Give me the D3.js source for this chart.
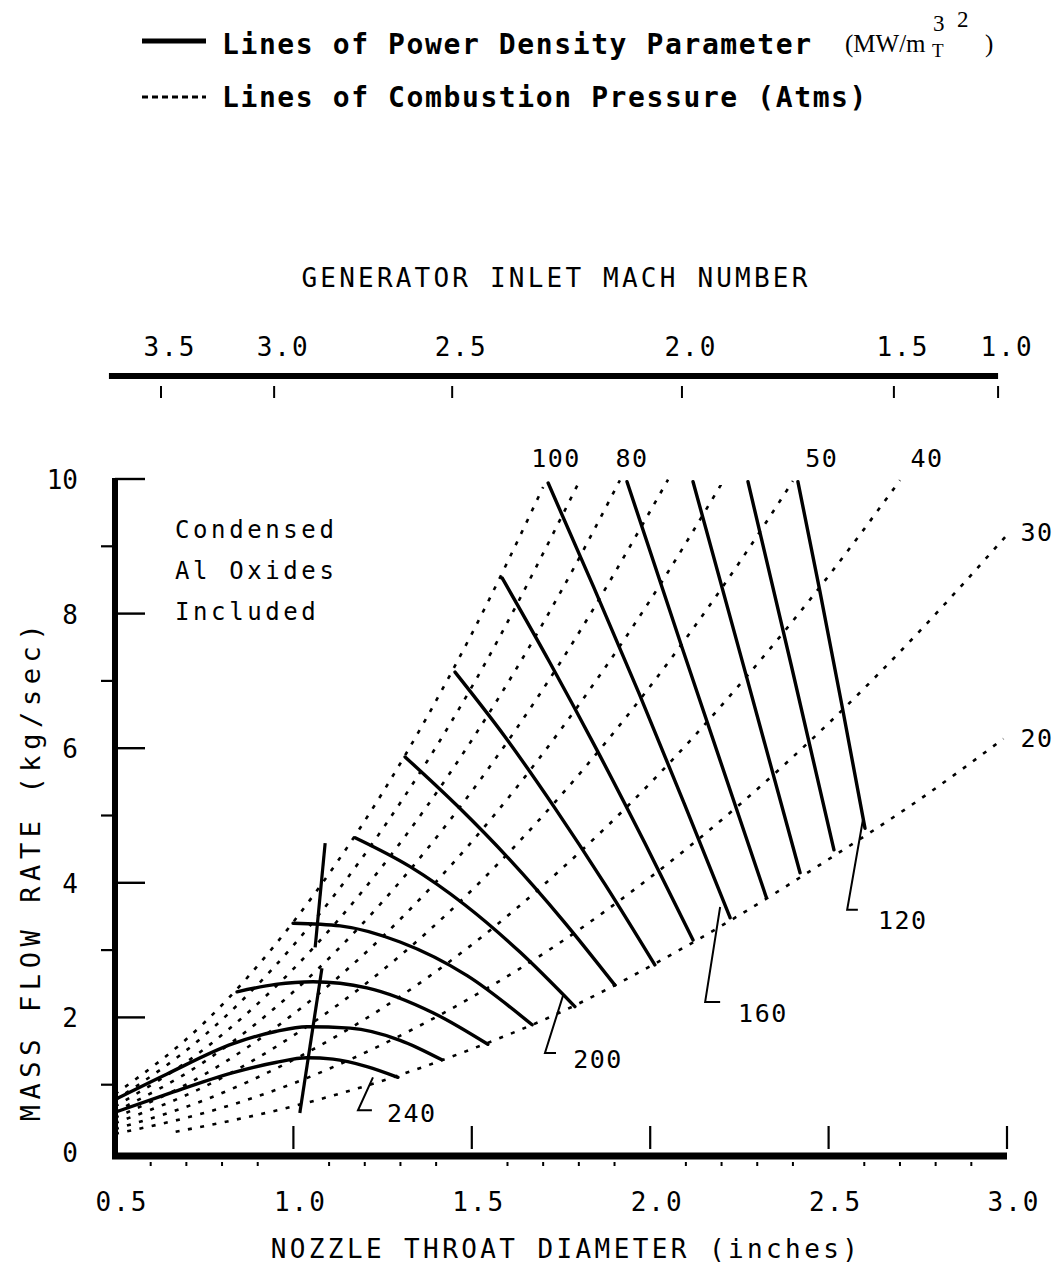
<!DOCTYPE html>
<html><head><meta charset="utf-8">
<script src="https://cdn.jsdelivr.net/npm/d3@7"></script>
<style>body{margin:0;background:#fff;} svg{display:block;}</style>
</head><body>
<svg id="c" width="1060" height="1272"></svg>
<script>
// ---------------- DATA ----------------
const xTickValues = [0.5, 1.0, 1.5, 2.0, 2.5, 3.0];
const xTickLabels = ["0.5", "1.0", "1.5", "2.0", "2.5", "3.0"];
const xMinorValues = [0.6,0.7,0.8,0.9,1.1,1.2,1.3,1.4,1.6,1.7,1.8,1.9,2.1,2.2,2.3,2.4,2.6,2.7,2.8,2.9];
const yTickValues = [0, 2, 4, 6, 8, 10];
const yTickLabels = ["0", "2", "4", "6", "8", "10"];
const yMinorValues = [1, 3, 5, 7, 9];
const machLabels = ["3.5", "3.0", "2.5", "2.0", "1.5", "1.0"];
const machAtDiameter = [0.629, 0.946, 1.445, 2.089, 2.683, 2.975];

// Lines of combustion pressure (Atms): [throat diameter (in), mass flow (kg/s)]
const pressures = [20, 30, 40, 50, 60, 70, 80, 90, 100];
const p20  = [[0.67,0.30],[1.0,0.68],[1.25,1.06],[1.5,1.53],[1.75,2.08],[2.0,2.76],[2.25,3.52],[2.5,4.35],[2.75,5.22],[2.99,6.14]];
const p30  = [[0.5,0.27],[0.75,0.58],[1.0,1.02],[1.25,1.60],[1.5,2.30],[1.75,3.12],[2.0,4.08],[2.25,5.16],[2.5,6.37],[2.75,7.71],[3.0,9.17]];
const p40  = [[0.5,0.34],[0.75,0.77],[1.0,1.37],[1.25,2.14],[1.5,3.08],[1.75,4.20],[2.0,5.48],[2.25,6.94],[2.5,8.56],[2.7,9.98]];
const p50  = [[0.5,0.43],[0.75,0.97],[1.0,1.73],[1.25,2.70],[1.5,3.89],[1.75,5.30],[2.0,6.92],[2.25,8.76],[2.4,9.97]];
const p60  = [[0.5,0.51],[0.75,1.15],[1.0,2.05],[1.25,3.20],[1.5,4.61],[1.75,6.28],[2.0,8.20],[2.2,9.93]];
const p70  = [[0.5,0.60],[0.75,1.34],[1.0,2.38],[1.25,3.72],[1.5,5.36],[1.75,7.29],[2.05,9.99]];
const p80  = [[0.5,0.68],[0.75,1.53],[1.0,2.72],[1.25,4.25],[1.5,6.12],[1.75,8.33],[1.915,9.98]];
const p90  = [[0.5,0.77],[0.75,1.73],[1.0,3.07],[1.25,4.80],[1.5,6.91],[1.8,9.95]];
const p100 = [[0.5,0.86],[0.75,1.92],[1.0,3.42],[1.25,5.34],[1.5,7.70],[1.70,9.88]];
const pressureLines = [p20, p30, p40, p50, p60, p70, p80, p90, p100];

// Lines of power density parameter (MW/m3 T2)
const powerValues = [240, 230, 220, 210, 200, 190, 180, 170, 160, 150, 140, 130, 120];
const pd240 = [[0.5,0.59],[0.646,0.86],[0.831,1.18],[0.95,1.33],[1.038,1.40],[1.111,1.38],[1.206,1.27],[1.293,1.11]];
const pd230 = [[0.5,0.78],[0.646,1.16],[0.831,1.61],[0.95,1.79],[1.038,1.86],[1.159,1.84],[1.299,1.66],[1.416,1.37]];
const pd220 = [[0.842,2.38],[0.95,2.49],[1.055,2.53],[1.206,2.44],[1.391,2.07],[1.545,1.60]];
const pd210 = [[0.999,3.40],[1.131,3.36],[1.299,3.12],[1.487,2.62],[1.669,1.89]];
const pd200 = [[1.173,4.67],[1.327,4.24],[1.481,3.67],[1.635,2.97],[1.789,2.16]];
const pd190 = [[1.313,5.87],[1.460,5.14],[1.607,4.34],[1.754,3.45],[1.901,2.48]];
const pd180 = [[1.453,7.13],[1.593,6.17],[1.733,5.11],[1.873,3.98],[2.013,2.78]];
const pd170 = [[1.585,8.53],[1.719,7.27],[1.852,5.96],[1.985,4.59],[2.120,3.15]];
const pd160 = [[1.714,9.94],[1.841,8.40],[1.969,6.81],[2.096,5.17],[2.224,3.48]];
const pd150 = [[1.935,9.96],[2.089,7.50],[2.325,3.79]];
const pd140 = [[2.120,9.96],[2.268,7.10],[2.420,4.15]];
const pd130 = [[2.274,9.96],[2.395,7.24],[2.515,4.49]];
const pd120 = [[2.414,9.96],[2.475,8.35],[2.538,6.62],[2.602,4.81]];
const powerLines = [pd240, pd230, pd220, pd210, pd200, pd190, pd180, pd170, pd160, pd150, pd140, pd130, pd120];

// near-vertical solid locus near d = 1.05
const locusUpper = [[1.089,4.59],[1.061,3.04]];
const locusLower = [[1.080,2.73],[1.018,0.58]];

// labels of pressure lines (text, diameter, mass flow)
const pressureLabelText = ["100", "80", "50", "40", "30", "20"];
const pressureLabelAt = [[1.736,10.31],[1.949,10.31],[2.481,10.31],[2.776,10.31],[3.084,9.21],[3.084,6.15]];
// leader labels of power density lines: tip, corner, foot, text centre
const leaderText = ["240", "200", "160", "120"];
const leaderPaths = [
  [[1.223,1.11],[1.181,0.62],[1.220,0.62]],
  [[1.756,2.33],[1.705,1.47],[1.736,1.47]],
  [[2.196,3.64],[2.154,2.23],[2.196,2.23]],
  [[2.596,4.93],[2.552,3.60],[2.582,3.60]]
];
const leaderTextAt = [[1.332,0.58],[1.854,1.38],[2.316,2.07],[2.708,3.45]];
const noteLines = ["Condensed", "Al Oxides", "Included"];

// ---------------- DRAW ----------------
const svg = d3.select("#c");
const MONO = "'DejaVu Sans Mono', 'Liberation Mono', monospace";
const SERIF = "'Liberation Serif', 'DejaVu Serif', serif";
const x = d3.scaleLinear().domain([0.5, 3.0]).range([115, 1007]);
const y = d3.scaleLinear().domain([0, 10]).range([1152, 479]);

const line = d3.line().x(d => x(d[0])).y(d => y(d[1])).curve(d3.curveMonotoneX);
const straight = d3.line().x(d => x(d[0])).y(d => y(d[1]));

// Legend
svg.append("line").attr("x1",142).attr("x2",206).attr("y1",41).attr("y2",41)
  .attr("stroke","#000").attr("stroke-width",5);
svg.append("line").attr("x1",142).attr("x2",206).attr("y1",97).attr("y2",97)
  .attr("stroke","#000").attr("stroke-width",3).attr("stroke-dasharray","6,4");
svg.append("text").attr("x",222).attr("y",54).text("Lines of Power Density Parameter")
  .attr("font-family",MONO).attr("font-weight","bold").attr("font-size",28).attr("letter-spacing",1.6);
svg.append("text").attr("x",222).attr("y",107).text("Lines of Combustion Pressure (Atms)")
  .attr("font-family",MONO).attr("font-weight","bold").attr("font-size",28).attr("letter-spacing",1.6);
svg.append("text").attr("x",845).attr("y",52).text("(MW/m").attr("font-family",SERIF).attr("font-size",25);
svg.append("text").attr("x",933).attr("y",31).text("3").attr("font-family",SERIF).attr("font-size",23);
svg.append("text").attr("x",932).attr("y",57).text("T").attr("font-family",SERIF).attr("font-size",19);
svg.append("text").attr("x",957).attr("y",27).text("2").attr("font-family",SERIF).attr("font-size",23);
svg.append("text").attr("x",985).attr("y",52).text(")").attr("font-family",SERIF).attr("font-size",25);

// Top (Mach number) axis
svg.append("text").attr("x",556).attr("y",287).attr("text-anchor","middle")
  .text("GENERATOR INLET MACH NUMBER")
  .attr("font-family",MONO).attr("font-size",26).attr("letter-spacing",3.2);
svg.append("line").attr("x1",x(0.483)).attr("x2",x(2.975)).attr("y1",376).attr("y2",376)
  .attr("stroke","#000").attr("stroke-width",6);
const mach = svg.append("g");
machAtDiameter.forEach((d, i) => {
  mach.append("line").attr("x1",x(d)).attr("x2",x(d)).attr("y1",386).attr("y2",398)
    .attr("stroke","#000").attr("stroke-width",2);
  mach.append("text").attr("x",x(d)+9).attr("y",356).attr("text-anchor","middle")
    .text(machLabels[i]).attr("font-family",MONO).attr("font-size",26).attr("letter-spacing",2);
});

// Pressure (dashed) lines
svg.append("g").selectAll("path").data(pressureLines).join("path")
  .attr("d", line).attr("fill","none").attr("stroke","#000")
  .attr("stroke-width",2.6).attr("stroke-dasharray","4,8.5");

// Power density (solid) lines
svg.append("g").selectAll("path").data(powerLines).join("path")
  .attr("d", line).attr("fill","none").attr("stroke","#000")
  .attr("stroke-width",3.4).attr("stroke-linecap","round");

// locus
[locusUpper, locusLower].forEach(seg => {
  svg.append("path").attr("d", straight(seg)).attr("fill","none")
    .attr("stroke","#000").attr("stroke-width",3.2);
});

// leaders
leaderPaths.forEach((p, i) => {
  svg.append("path").attr("d", straight(p)).attr("fill","none")
    .attr("stroke","#000").attr("stroke-width",2);
  svg.append("text").attr("x", x(leaderTextAt[i][0])).attr("y", y(leaderTextAt[i][1]) + 9)
    .attr("text-anchor","middle").text(leaderText[i])
    .attr("font-family",MONO).attr("font-size",25).attr("letter-spacing",1.5);
});

// pressure labels
pressureLabelText.forEach((t, i) => {
  svg.append("text").attr("x", x(pressureLabelAt[i][0])).attr("y", y(pressureLabelAt[i][1]) + 9)
    .attr("text-anchor","middle").text(t)
    .attr("font-family",MONO).attr("font-size",25).attr("letter-spacing",1.5);
});

// note
noteLines.forEach((t, i) => {
  svg.append("text").attr("x",175).attr("y",538 + i*41).text(t)
    .attr("font-family",MONO).attr("font-size",24).attr("letter-spacing",3.6);
});

// Y axis
const ya = svg.append("g");
ya.append("line").attr("x1",x(0.5)).attr("x2",x(0.5)).attr("y1",y(10)-1).attr("y2",y(0)+6)
  .attr("stroke","#000").attr("stroke-width",6);
yTickValues.forEach((v, i) => {
  if (v > 0) {
    ya.append("line").attr("x1",x(0.5)).attr("x2",x(0.5)+30).attr("y1",y(v)).attr("y2",y(v))
      .attr("stroke","#000").attr("stroke-width",2.4);
  }
  ya.append("text").attr("x",78).attr("y",y(v)+10).attr("text-anchor","end")
    .text(yTickLabels[i]).attr("font-family",MONO).attr("font-size",26);
});
yMinorValues.forEach(v => {
  ya.append("line").attr("x1",x(0.5)-14).attr("x2",x(0.5)).attr("y1",y(v)).attr("y2",y(v))
    .attr("stroke","#000").attr("stroke-width",2.2);
});
svg.append("text").attr("transform","translate(40,870) rotate(-90)").attr("text-anchor","middle")
  .text("MASS FLOW RATE (kg/sec)").attr("font-family",MONO).attr("font-size",27).attr("letter-spacing",5.6);

// X axis
const xa = svg.append("g");
xa.append("line").attr("x1",x(0.5)-3).attr("x2",x(3.0)).attr("y1",y(0)+4).attr("y2",y(0)+4)
  .attr("stroke","#000").attr("stroke-width",7);
xTickValues.forEach((v, i) => {
  if (v > 0.5) {
    xa.append("line").attr("x1",x(v)).attr("x2",x(v)).attr("y1",y(0)-26).attr("y2",y(0)-3)
      .attr("stroke","#000").attr("stroke-width",2.2);
  }
  xa.append("text").attr("x",x(v)+7).attr("y",1211).attr("text-anchor","middle")
    .text(xTickLabels[i]).attr("font-family",MONO).attr("font-size",26).attr("letter-spacing",2);
});
xMinorValues.forEach(v => {
  xa.append("line").attr("x1",x(v)).attr("x2",x(v)).attr("y1",y(0)+10).attr("y2",y(0)+14)
    .attr("stroke","#000").attr("stroke-width",2);
});
svg.append("text").attr("x",566).attr("y",1258).attr("text-anchor","middle")
  .text("NOZZLE THROAT DIAMETER (inches)").attr("font-family",MONO).attr("font-size",26).attr("letter-spacing",3.4);
</script>
</body></html>
